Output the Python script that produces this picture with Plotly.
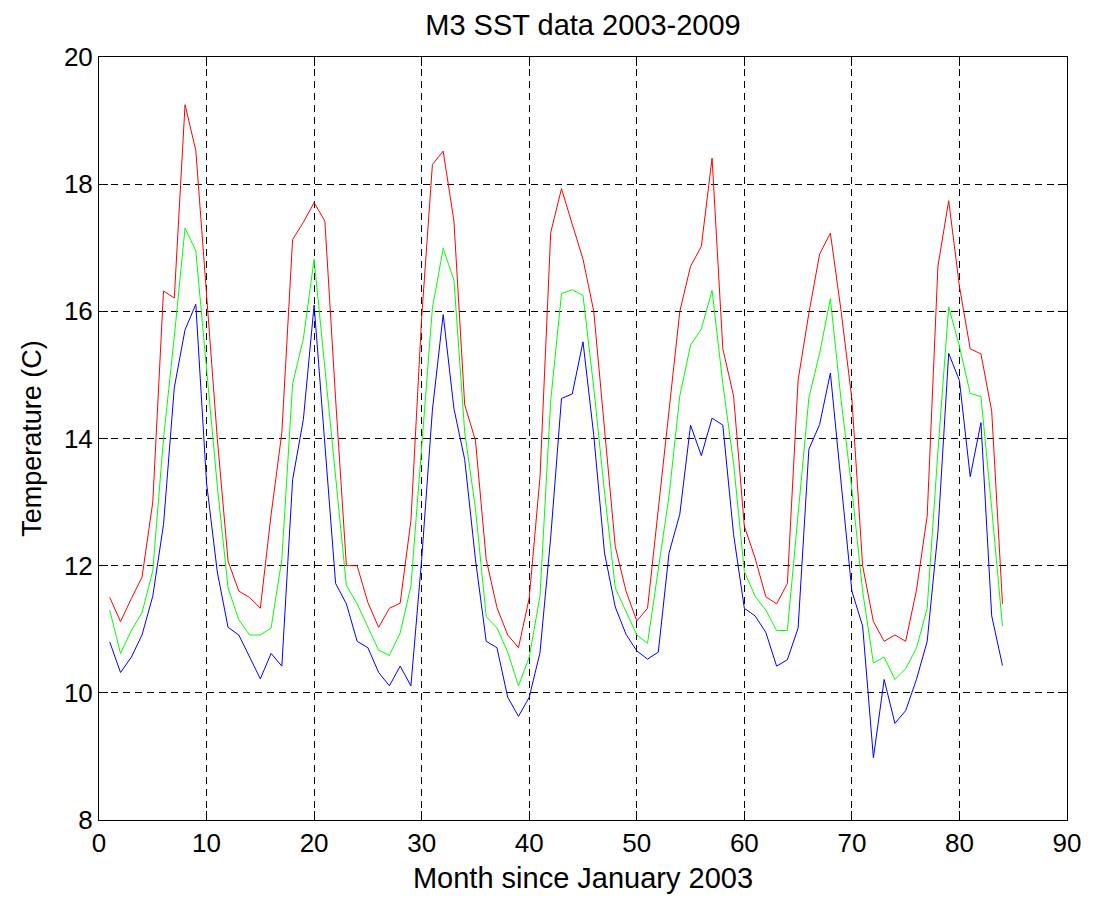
import plotly.graph_objects as go

months = list(range(1, 85))

red = [11.50, 11.12, 11.48, 11.82, 13.0, 16.32, 16.21, 19.25, 18.53, 16.2,
       14.0, 12.07, 11.6, 11.50, 11.33, 12.8, 14.09, 17.13, 17.40, 17.71,
       17.42, 14.62, 12.0, 12.0, 11.42, 11.03, 11.33, 11.41, 12.71, 15.9,
       18.31, 18.52, 17.42, 14.53, 13.97, 12.10, 11.34, 10.91, 10.71, 11.49,
       13.39, 17.24, 17.93, 17.37, 16.82, 16.0, 14.1, 12.30, 11.6, 11.13,
       11.33, 12.9, 14.5, 16.0, 16.71, 17.02, 18.41, 15.41, 14.67, 12.62,
       12.12, 11.51, 11.40, 11.72, 14.92, 15.97, 16.90, 17.23, 16.0, 14.62,
       12.0, 11.12, 10.81, 10.91, 10.81, 11.61, 12.78, 16.71, 17.74, 16.39,
       15.41, 15.33, 14.43, 11.40]

green = [11.30, 10.62, 10.98, 11.26, 11.92, 14.0, 15.6, 17.31, 16.95, 15.05,
         13.25, 11.65, 11.15, 10.91, 10.91, 11.02, 12.1, 14.86, 15.57, 16.82,
         15.1, 13.3, 11.69, 11.40, 11.04, 10.67, 10.59, 10.94, 11.68, 13.9,
         16.05, 16.99, 16.49, 14.1, 12.9, 11.20, 11.02, 10.64, 10.11, 10.56,
         11.52, 14.6, 16.28, 16.34, 16.25, 14.8, 13.16, 11.65, 11.27, 10.91,
         10.78, 11.98, 13.1, 14.67, 15.47, 15.72, 16.33, 14.86, 13.61, 11.91,
         11.52, 11.30, 10.98, 10.98, 12.81, 14.64, 15.34, 16.20, 14.6, 13.2,
         11.6, 10.47, 10.56, 10.21, 10.38, 10.70, 11.33, 13.8, 16.07, 15.45,
         14.71, 14.66, 12.9, 11.05]

blue = [10.80, 10.32, 10.56, 10.91, 11.52, 12.65, 14.80, 15.71, 16.11, 13.3,
        11.9, 11.03, 10.91, 10.56, 10.22, 10.62, 10.42, 13.35, 14.30, 16.10,
        13.95, 11.72, 11.40, 10.81, 10.71, 10.32, 10.11, 10.42, 10.11, 12.1,
        14.45, 15.95, 14.47, 13.67, 12.1, 10.81, 10.71, 9.93, 9.63, 9.93,
        10.63, 12.45, 14.63, 14.70, 15.52, 14.05, 12.2, 11.35, 10.92, 10.66,
        10.53, 10.64, 12.2, 12.81, 14.21, 13.73, 14.32, 14.21, 12.49, 11.33,
        11.21, 10.95, 10.42, 10.52, 11.02, 13.83, 14.22, 15.03, 13.3, 11.6,
        11.05, 8.98, 10.21, 9.52, 9.72, 10.21, 10.81, 12.53, 15.34, 14.91,
        13.40, 14.25, 11.21, 10.43]

x_ticks = [0, 10, 20, 30, 40, 50, 60, 70, 80, 90]
y_ticks = [8, 10, 12, 14, 16, 18, 20]

FONT = "Liberation Sans, Arial, sans-serif"

fig = go.Figure()
for vals, col, name in [(red, "#FF0000", "red"), (green, "#00FF00", "green"), (blue, "#0000FF", "blue")]:
    fig.add_trace(go.Scatter(x=months, y=vals, mode="lines", name=name,
                             line=dict(color=col, width=1)))

axis_common = dict(
    showline=True, linecolor="black", linewidth=1, mirror="allticks",
    ticks="inside", ticklen=9, tickcolor="black", tickwidth=1,
    showgrid=True, gridcolor="black", gridwidth=1, griddash="7px,5px",
    zeroline=False, tickfont=dict(family=FONT, size=26, color="black"),
)

fig.update_layout(
    width=1093, height=902,
    margin=dict(l=99, r=18, t=57, b=82),
    paper_bgcolor="white", plot_bgcolor="white",
    showlegend=False,
    font=dict(family=FONT, color="black", size=26),
    title=dict(text="M3 SST data 2003-2009", x=0.5, xref="paper",
               y=1 - 25 / 902, yref="container", yanchor="middle",
               font=dict(family=FONT, size=29, color="black")),
    xaxis=dict(range=[0, 90], tickvals=x_ticks, ticktext=[str(v) for v in x_ticks],
               title=dict(text="Month since January 2003", standoff=10,
                          font=dict(family=FONT, size=29, color="black")),
               **axis_common),
    yaxis=dict(range=[8, 20], tickvals=y_ticks, ticktext=[str(v) for v in y_ticks],
               title=dict(text="Temperature (C)", standoff=14,
                          font=dict(family=FONT, size=27, color="black")),
               **axis_common),
)

fig.write_html("out.html")
